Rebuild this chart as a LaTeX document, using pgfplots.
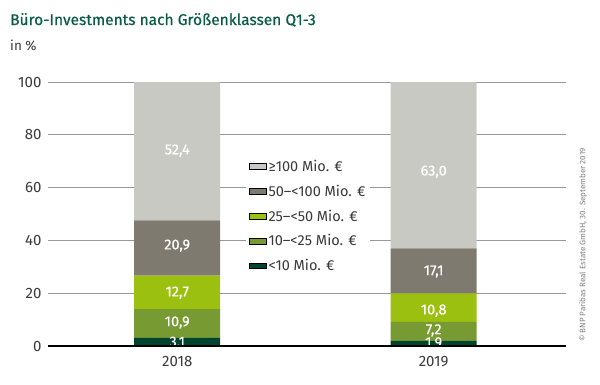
\documentclass[border=0pt]{standalone}
\usepackage{fontspec}
\setmainfont{Fira Sans}
\newfontfamily\titlefont{Fira Sans}[FakeBold=0.5]
\newfontfamily\lblfont{Fira Sans}[FakeBold=0.3]
\usepackage{pgfplots}
\pgfplotsset{compat=1.18}
\definecolor{c1}{HTML}{00432F}
\definecolor{c2}{HTML}{779A32}
\definecolor{c3}{HTML}{9CC00F}
\definecolor{c4}{HTML}{7F7A70}
\definecolor{c5}{HTML}{C9C9C4}
\definecolor{titlegreen}{HTML}{0A5C45}
\definecolor{txt}{HTML}{3A3A3A}
\tikzset{lbl/.style={text=white, font=\lblfont\fontsize{14.5}{16}\selectfont}}
\begin{document}
\begin{tikzpicture}
\path[use as bounding box] (0pt,0pt) rectangle (600pt,384pt);
\node[anchor=base west, font=\titlefont\fontsize{15.5}{18}\selectfont, text=titlegreen, inner sep=0pt] at (10pt,359pt) {Büro-Investments nach Größenklassen Q1-3};
\node[anchor=base west, font=\fontsize{13.5}{15}\selectfont, text=txt, inner sep=0pt] at (10pt,334pt) {in \%};
\node[rotate=90, font=\fontsize{8}{9}\selectfont, text=gray] at (583pt,139pt) {© BNP Paribas Real Estate GmbH, 30. September 2019};
\begin{axis}[
  at={(48pt,38pt)}, anchor=south west,
  scale only axis, width=518pt, height=264pt,
  ybar stacked, bar width=86pt,
  xmin=-0.504, xmax=1.516, ymin=0, ymax=100,
  ytick={0,20,40,60,80,100}, xtick={0,1}, xticklabels={2018,2019},
  axis line style={draw=none}, major tick length=0pt,
  ymajorgrids, grid style={gray!80, line width=0.7pt},
  /pgf/number format/assume math mode=true,
  tick label style={font=\fontsize{15}{17}\selectfont, text=txt},
  yticklabel style={xshift=-3pt},
  xticklabel style={yshift=-7pt},
  legend style={at={(0.382,0.72)}, anchor=north west, draw=none, fill=white,
    font=\fontsize{14.5}{16}\selectfont, text=txt, row sep=8pt},
  legend cell align=left, reverse legend,
  area legend,
]
\addplot[fill=c1, draw=none] coordinates {(0,3.1) (1,1.9)};
\addplot[fill=c2, draw=none] coordinates {(0,10.9) (1,7.2)};
\addplot[fill=c3, draw=none] coordinates {(0,12.7) (1,10.8)};
\addplot[fill=c4, draw=none] coordinates {(0,20.9) (1,17.1)};
\addplot[fill=c5, draw=none] coordinates {(0,52.4) (1,63.0)};
\legend{<10 Mio. €, 10–<25 Mio. €, 25–<50 Mio. €, 50–<100 Mio. €, ≥100 Mio. €}
\coordinate (a1) at (axis cs:0,1.2);
\coordinate (a2) at (axis cs:0,8.9);
\coordinate (a3) at (axis cs:0,20.2);
\coordinate (a4) at (axis cs:0,38.0);
\coordinate (a5) at (axis cs:0,74.0);
\coordinate (b1) at (axis cs:1,1.0);
\coordinate (b2) at (axis cs:1,5.9);
\coordinate (b3) at (axis cs:1,13.4);
\coordinate (b4) at (axis cs:1,28.2);
\coordinate (b5) at (axis cs:1,66.0);
\coordinate (l0) at (axis cs:-0.504,0);
\coordinate (r0) at (axis cs:1.516,0);
\end{axis}
\node[lbl] at (a1) {3,1};
\node[lbl] at (a2) {10,9};
\node[lbl] at (a3) {12,7};
\node[lbl] at (a4) {20,9};
\node[lbl] at (a5) {52,4};
\node[lbl] at (b1) {1,9};
\node[lbl] at (b2) {7,2};
\node[lbl] at (b3) {10,8};
\node[lbl] at (b4) {17,1};
\node[lbl] at (b5) {63,0};
\draw[black, line width=2pt] (l0) -- (r0);
\end{tikzpicture}
\end{document}
